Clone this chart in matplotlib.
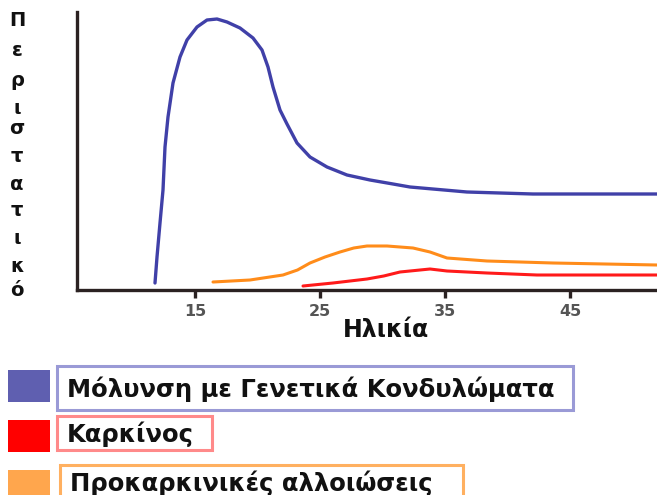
import matplotlib
matplotlib.use("Agg")
import matplotlib.pyplot as plt
from matplotlib.patches import Rectangle

# ages / case counts (arbitrary units)
blue_age = [11.8, 11.96, 12.2, 12.44, 12.6, 12.84, 13.24, 13.8, 14.36, 15.16,
            15.96, 16.76, 17.56, 18.6, 19.64, 20.36, 20.84, 21.24, 21.8, 22.36,
            23.16, 24.2, 25.56, 27.16, 29.0, 30.84, 32.2, 36.76, 42.04, 51.96]
blue_cases = [7, 33, 67, 100, 143, 173, 207, 233, 250, 263,
              270, 271, 268, 262, 252, 240, 223, 203, 180, 166,
              147, 133, 123, 115, 110, 106, 103, 98, 96, 96]

orange_age = [16.44, 19.4, 22.04, 23.2, 24.2, 25.4, 26.6, 27.7, 28.76, 30.36,
              32.44, 33.8, 35.16, 38.36, 43.64, 51.96]
orange_cases = [8, 10, 15, 20, 27, 33, 38, 42, 44, 44,
                42, 38, 32, 29, 27, 25]

red_age = [23.64, 26.04, 28.76, 30.1, 31.4, 33.8, 35.16, 38.36, 42.36, 51.96]
red_cases = [4, 7, 11, 14, 18, 21, 19, 17, 15, 15]

x_ticks = [15, 25, 35, 45]
y_letters = list("Περιστατικό")
legend_labels = ["Μόλυνση με Γενετικά Κονδυλώματα", "Καρκίνος", "Προκαρκινικές αλλοιώσεις"]

BLUE = "#4040a8"
RED = "#ff1a1a"
ORANGE = "#ff8c1a"
legend_colors = ["#5f5fb0", "#ff0000", "#ffa64d"]
legend_edges = ["#9a9ad6", "#ff8a8a", "#ffb060"]

W, H = 657, 495


def fx(x):
    return x / W


def fy(y):
    return 1 - y / H


fig = plt.figure(figsize=(W / 100, H / 100), dpi=100)
ax = fig.add_axes([fx(77), fy(290), 1 - fx(77), fy(12) - fy(290)])

ax.plot(blue_age, blue_cases, color=BLUE, lw=2.4, solid_capstyle="round", solid_joinstyle="round")
ax.plot(orange_age, orange_cases, color=ORANGE, lw=2.2, solid_capstyle="round", solid_joinstyle="round")
ax.plot(red_age, red_cases, color=RED, lw=2.2, solid_capstyle="round", solid_joinstyle="round")

ax.set_xlim(5.56, 51.96)
ax.set_ylim(0, 278)
for s in ["top", "right"]:
    ax.spines[s].set_visible(False)
for s in ["left", "bottom"]:
    ax.spines[s].set_linewidth(2.4)
    ax.spines[s].set_color("#2b2222")
ax.set_yticks([])
ax.set_xticks(x_ticks)
ax.set_xticklabels([str(t) for t in x_ticks], color="#555555", fontsize=11.5, fontweight="bold")
ax.tick_params(axis="x", direction="out", length=6, width=2.4, color="#2b2222", pad=4)

fig.text(fx(386), fy(330), "Ηλικία", ha="center", va="center",
         fontsize=17, fontweight="bold", color="#111111")

letter_y = [20, 50, 80, 108, 128, 157, 185, 210, 238, 267, 290]
for ch, yy in zip(y_letters, letter_y):
    fig.text(fx(17), fy(yy), ch, ha="center", va="center",
             fontsize=14, fontweight="bold", color="#111111")

# legend built by hand: colour squares + outlined label boxes
sq_y = [370, 420, 470]
box_spec = [(57, 366, 573, 410), (57, 416, 212, 450), (60, 465, 463, 499)]
for i, lab in enumerate(legend_labels):
    fig.add_artist(Rectangle((fx(8), fy(sq_y[i] + 32)), fx(42), 32 / H,
                             transform=fig.transFigure, facecolor=legend_colors[i],
                             edgecolor="none"))
    x0, y0, x1, y1 = box_spec[i]
    fig.add_artist(Rectangle((fx(x0), fy(y1)), fx(x1 - x0), (y1 - y0) / H,
                             transform=fig.transFigure, facecolor="white",
                             edgecolor=legend_edges[i], linewidth=2.2))
    fig.text(fx(x0 + 10), fy((y0 + y1) / 2 + 1), lab, ha="left", va="center",
             fontsize=17.5, fontweight="bold", color="#111111")

fig.savefig("out.png", dpi=100)
